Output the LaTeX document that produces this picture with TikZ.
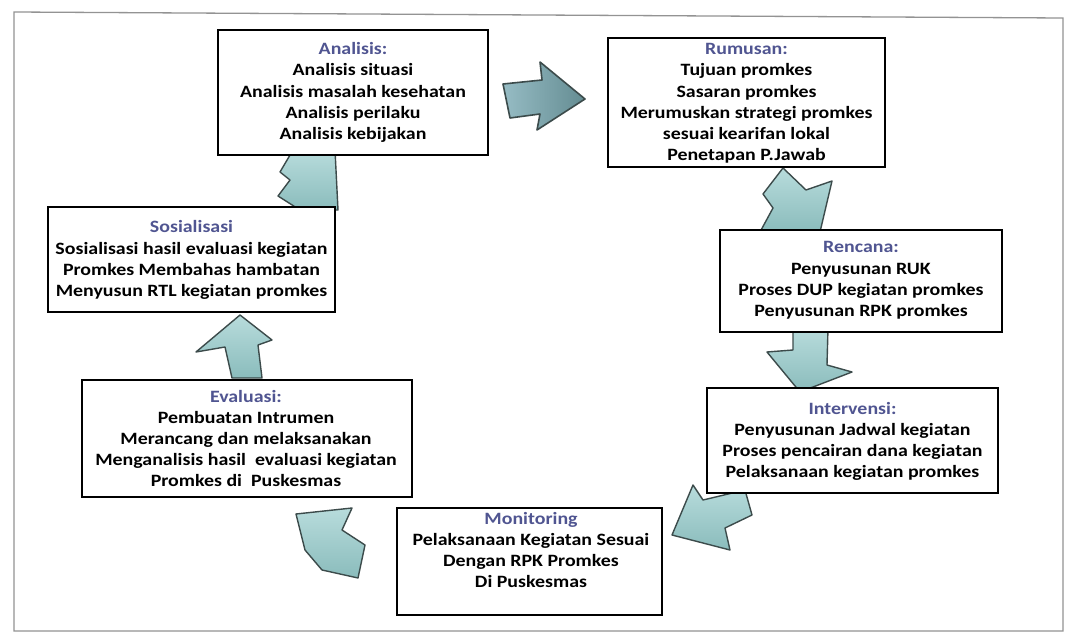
\documentclass[tikz,border=0pt]{standalone}
\usepackage{fontspec}
\setmainfont{Carlito}[FakeStretch=1.15]
\definecolor{ttl}{RGB}{80,85,145}
\definecolor{arrline}{RGB}{60,75,75}
\definecolor{arrA}{RGB}{184,220,220}
\definecolor{arrB}{RGB}{138,188,188}
\definecolor{darkA}{RGB}{150,188,196}
\definecolor{darkB}{RGB}{100,140,146}
\tikzset{
  stagebox/.style={draw=black, line width=2.6pt, fill=white, rectangle, inner sep=0pt},
  stagetxt/.style={align=center, font=\bfseries\fontsize{17.3}{21.2}\selectfont, inner sep=0pt},
  blockarrow/.style={draw=arrline, line width=1.4pt, line join=round, top color=arrA, bottom color=arrB},
  darkarrow/.style={draw=arrline, line width=1.6pt, line join=round, left color=darkA, right color=darkB},
}
\begin{document}
\begin{tikzpicture}[x=1pt,y=-1pt]
\useasboundingbox (0,0) rectangle (1069,637);
\fill[white] (0,0) rectangle (1069,637);
% outer frame
\draw[gray!85, line width=1.3pt] (14,12) -- (1063,18) -- (1063,631) -- (14,631) -- cycle;

% block arrows (under the boxes)
\draw[darkarrow] (503,84) -- (542,80) -- (540,62) -- (585,99) -- (537,130) -- (540,114) -- (510,118) -- cycle;
\draw[blockarrow] (783,168) -- (806,190) -- (832,181) -- (820,232) -- (760,232) -- (773,208) -- (763,194) -- cycle;
\draw[blockarrow] (793,328) -- (828,328) -- (827,365) -- (852,372) -- (800,392) -- (767,352) -- (793,350) -- cycle;
\draw[blockarrow] (693,485) -- (703,500) -- (745,490) -- (752,515) -- (725,528) -- (730,550) -- (672,535) -- cycle;
\draw[blockarrow] (296,514) -- (352,508) -- (342,530) -- (365,545) -- (358,578) -- (322,570) -- (305,550) -- cycle;
\draw[blockarrow] (240,315) -- (272,340) -- (258,345) -- (262,378) -- (232,378) -- (225,347) -- (196,352) -- cycle;
\draw[blockarrow] (293,150) -- (335,150) -- (338,210) -- (300,210) -- (278,196) -- (290,180) -- (280,172) -- cycle;

% boxes
\node[stagebox, minimum width=270pt, minimum height=125pt] (bA) at (353,92.5) {};
\node[stagebox, minimum width=277pt, minimum height=129pt] (bR) at (746.5,102.5) {};
\node[stagebox, minimum width=287pt, minimum height=105pt] (bS) at (191.5,259.5) {};
\node[stagebox, minimum width=282pt, minimum height=102pt] (bP) at (861,281) {};
\node[stagebox, minimum width=291pt, minimum height=105pt] (bI) at (852.5,440.5) {};
\node[stagebox, minimum width=330pt, minimum height=117pt] (bE) at (247,438.5) {};
\node[stagebox, minimum width=265pt, minimum height=107pt] (bM) at (529.5,561.5) {};

% texts
\node[stagetxt] (tA) at (353,92.5) {\textcolor{ttl}{Analisis:}\\Analisis situasi\\Analisis masalah kesehatan\\Analisis perilaku\\Analisis kebijakan};
\node[stagetxt] (tR) at (746.5,103.5) {\textcolor{ttl}{Rumusan:}\\Tujuan promkes\\Sasaran promkes\\Merumuskan strategi promkes\\sesuai kearifan lokal\\Penetapan P.Jawab};
\node[stagetxt] (tS) at (191.5,260) {\textcolor{ttl}{Sosialisasi}\\Sosialisasi hasil evaluasi kegiatan\\Promkes Membahas hambatan\\Menyusun RTL kegiatan promkes};
\node[stagetxt] (tP) at (861,280.5) {\textcolor{ttl}{Rencana:}\\Penyusunan RUK\\Proses DUP kegiatan promkes\\Penyusunan RPK promkes};
\node[stagetxt] (tI) at (852.5,441.5) {\textcolor{ttl}{Intervensi:}\\Penyusunan Jadwal kegiatan\\Proses pencairan dana kegiatan\\Pelaksanaan kegiatan promkes};
\node[stagetxt] (tE) at (246,438.5) {\textcolor{ttl}{Evaluasi:}\\Pembuatan Intrumen\\Merancang dan melaksanakan\\Menganalisis hasil\ \ evaluasi kegiatan\\Promkes di\ \ Puskesmas};
\node[stagetxt] (tM) at (531,550) {\textcolor{ttl}{Monitoring}\\Pelaksanaan Kegiatan Sesuai\\Dengan RPK Promkes\\Di Puskesmas};
\end{tikzpicture}
\end{document}
